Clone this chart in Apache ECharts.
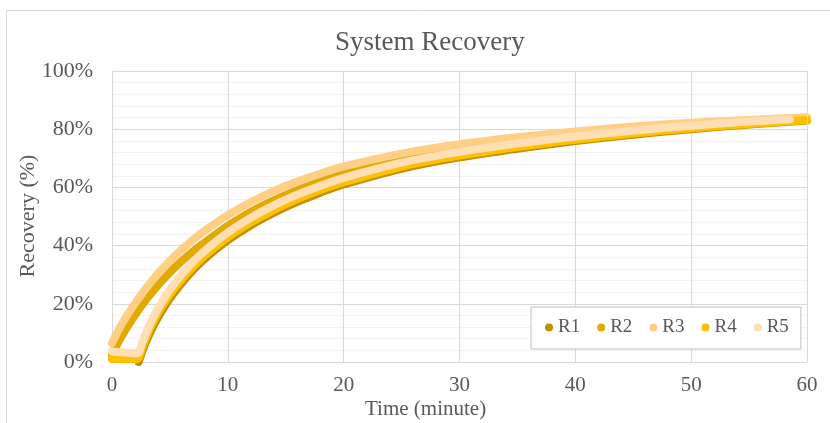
<!DOCTYPE html>
<html>
<head>
<meta charset="utf-8">
<script src="https://cdn.jsdelivr.net/npm/echarts@6/dist/echarts.min.js"></script>
<style>
html,body{margin:0;padding:0;background:#fff;}
#chart{width:830px;height:423px;}
</style>
</head>
<body>
<div id="chart"></div>
<script>
// ---- data (time in minutes, recovery in %) ----
const seriesNames = ['R1', 'R2', 'R3', 'R4', 'R5'];
const seriesColors = ['#BF9000', '#E2AA00', '#FFCF85', '#FFC000', '#FFDFB3'];

const r1Time = [2.3, 2.6, 3, 3.5, 4, 5, 6, 7, 8, 10, 12, 14, 16, 18, 20, 25, 30, 35, 40, 45, 50, 55, 60];
const r1Val  = [0, 3.5, 7.5, 11.8, 15.5, 21.8, 27, 31.5, 35.4, 41.8, 47, 51.3, 55, 58.2, 61, 66.4, 70.3, 73.3, 75.9, 78.1, 80, 81.6, 83];

const r2Time = [0, 0.5, 1, 1.5, 2, 3, 4, 5, 6, 7, 8, 10, 12, 14, 16, 18, 20, 25, 30, 35, 40, 45, 50, 55, 60];
const r2Val  = [2.5, 6.5, 10, 13.2, 16.2, 21.7, 26.5, 30.8, 34.6, 38, 41.1, 46.8, 51.6, 55.6, 59, 62, 64.5, 69.3, 72.8, 75.5, 77.8, 79.7, 81.2, 82.4, 83.5];

const r3Time = [0, 0.5, 1, 1.5, 2, 3, 4, 5, 6, 7, 8, 10, 12, 14, 16, 18, 20, 25, 30, 35, 40, 45, 50, 55, 60];
const r3Val  = [6.5, 10.5, 14, 17.2, 20.2, 25.7, 30.5, 34.8, 38.6, 42, 45.1, 50.5, 55, 58.8, 62, 64.8, 67.2, 71.6, 74.8, 77.2, 79.2, 80.9, 82.2, 83.2, 84.1];

const r4Time = [0, 1, 2, 2.3, 2.6, 3, 3.5, 4, 5, 6, 7, 8, 10, 12, 14, 16, 18, 20, 25, 30, 35, 40, 45, 50, 55, 60];
const r4Val  = [1, 1, 1, 1.3, 5, 9, 13.2, 17, 23.2, 28.3, 32.7, 36.5, 42.9, 48, 52.3, 56, 59.1, 61.8, 67.1, 70.9, 73.9, 76.4, 78.5, 80.3, 81.8, 83.2];

const r5Time = [0, 1, 2.2, 2.6, 3, 3.5, 4, 5, 6, 7, 8, 10, 12, 14, 16, 18, 20, 25, 30, 35, 40, 45, 50, 55, 58.5];
const r5Val  = [3.6, 3.3, 3, 6.5, 10.5, 14.8, 18.5, 24.8, 30, 34.4, 38.2, 44.5, 49.6, 53.9, 57.5, 60.6, 63.3, 68.5, 72.2, 75.1, 77.5, 79.5, 81.2, 82.6, 83.4];

const xTicks = [0, 10, 20, 30, 40, 50, 60];
const yTicks = [0, 20, 40, 60, 80, 100];

const times = [r1Time, r2Time, r3Time, r4Time, r5Time];
const vals = [r1Val, r2Val, r3Val, r4Val, r5Val];

const FONT = "'Liberation Serif', 'Times New Roman', serif";
const TXT = '#595959';

const chart = echarts.init(document.getElementById('chart'), null, {renderer: 'canvas'});

const series = seriesNames.map((name, i) => ({
  name: name,
  type: 'line',
  data: times[i].map((t, k) => [t, vals[i][k]]),
  smooth: 0.3,
  showSymbol: false,
  symbol: 'circle',
  color: seriesColors[i],
  lineStyle: {width: 8, color: seriesColors[i], cap: 'round', join: 'round'},
  emphasis: {disabled: true},
  animation: false
}));

chart.setOption({
  animation: false,
  graphic: [{
    type: 'rect',
    shape: {x: 6.5, y: 10.5, width: 900, height: 500},
    style: {fill: 'none', stroke: '#D9D9D9', lineWidth: 1},
    silent: true, z: -10
  }, {
    type: 'text',
    left: 365, top: 399,
    style: {text: 'Time (minute)', fontFamily: FONT, fontSize: 21, fill: TXT},
    silent: true
  }, {
    type: 'text',
    x: 28, y: 216,
    rotation: Math.PI / 2,
    style: {text: 'Recovery (%)', fontFamily: FONT, fontSize: 22, fill: TXT,
      align: 'center', verticalAlign: 'middle'},
    silent: true
  }],
  title: {
    text: 'System Recovery',
    left: 330,
    top: 24,
    textStyle: {fontFamily: FONT, fontSize: 27, fontWeight: 'normal', color: TXT}
  },
  legend: {
    data: seriesNames,
    left: 531,
    top: 307,
    orient: 'horizontal',
    icon: 'circle',
    itemWidth: 8,
    itemHeight: 8,
    itemGap: 17,
    padding: [11, 12, 12, 14],
    backgroundColor: '#fff',
    borderColor: '#BFBFBF',
    borderWidth: 1,
    textStyle: {fontFamily: FONT, fontSize: 19, color: TXT},
    z: 10
  },
  grid: {left: 112, right: 23, top: 71, bottom: 61, containLabel: false},
  xAxis: {
    type: 'value',
    min: 0, max: 60, interval: 10,
    axisLine: {show: true, lineStyle: {color: '#D9D9D9', width: 1}},
    axisTick: {show: false},
    axisLabel: {fontFamily: FONT, fontSize: 21, color: TXT, margin: 13},
    splitLine: {show: true, lineStyle: {color: '#D9D9D9', width: 1}}
  },
  yAxis: {
    type: 'value',
    min: 0, max: 100, interval: 20,
    axisLine: {show: true, lineStyle: {color: '#D9D9D9', width: 1}},
    axisTick: {show: false},
    axisLabel: {fontFamily: FONT, fontSize: 22, color: TXT, margin: 19, formatter: v => v + '%'},
    splitLine: {show: true, lineStyle: {color: '#D9D9D9', width: 1}},
    minorTick: {show: false, splitNumber: 5},
    minorSplitLine: {show: true, lineStyle: {color: '#F2F2F2', width: 1}}
  },
  series: series.concat([{
    type: 'line', data: [], silent: true,
    markLine: {silent: true, symbol: 'none', label: {show: false},
      lineStyle: {color: '#D9D9D9', type: 'solid', width: 1},
      data: [{xAxis: 60}, {yAxis: 100}]}
  }])
});
</script>
</body>
</html>
